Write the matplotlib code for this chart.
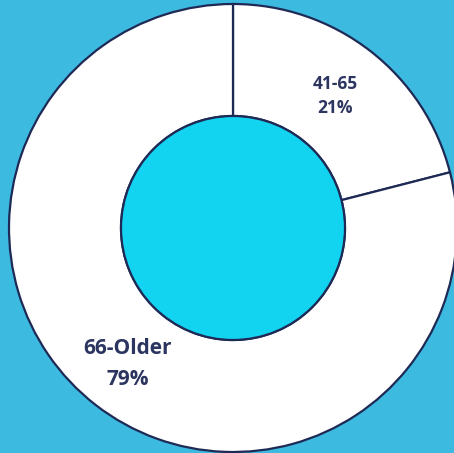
import numpy as np
import matplotlib.pyplot as plt
from matplotlib.patches import Circle

labels = ['41-65', '66-Older']
values = [21, 79]
label_sizes = [12.5, 15]
label_spacing = [1.45, 1.6]
label_radius = [0.745, 0.77]

bg = '#3dbae0'
hole = '#12d4f1'
navy = '#1e2a55'
txt = '#2b3560'

fig = plt.figure(figsize=(4.54, 4.53), dpi=100)
fig.patch.set_facecolor(bg)
ax = fig.add_axes([0, 0, 1, 1])
ax.set_facecolor(bg)

wedges, _ = ax.pie(values, startangle=90, counterclock=False, radius=1,
                   colors=['white', 'white'],
                   wedgeprops=dict(width=0.5, edgecolor=navy, linewidth=1.6))
ax.add_patch(Circle((0, 0), 0.5, facecolor=hole, edgecolor=navy, linewidth=1.6, zorder=3))

for w, lab, v, fs, ls, r in zip(wedges, labels, values, label_sizes, label_spacing, label_radius):
    ang = np.deg2rad((w.theta1 + w.theta2) / 2)
    ax.text(r * np.cos(ang), r * np.sin(ang), f'{lab}\n{v}%', ha='center', va='center',
            fontsize=fs, fontweight='bold', color=txt, family='Open Sans', linespacing=ls)

# the ring runs off the right and bottom edge of the picture
ax.set_xlim(-233 / 224, 221 / 224)
ax.set_ylim(-225 / 224, 228 / 224)
ax.set_aspect('auto')
ax.axis('off')

fig.savefig('out.png', dpi=100, facecolor=bg)
